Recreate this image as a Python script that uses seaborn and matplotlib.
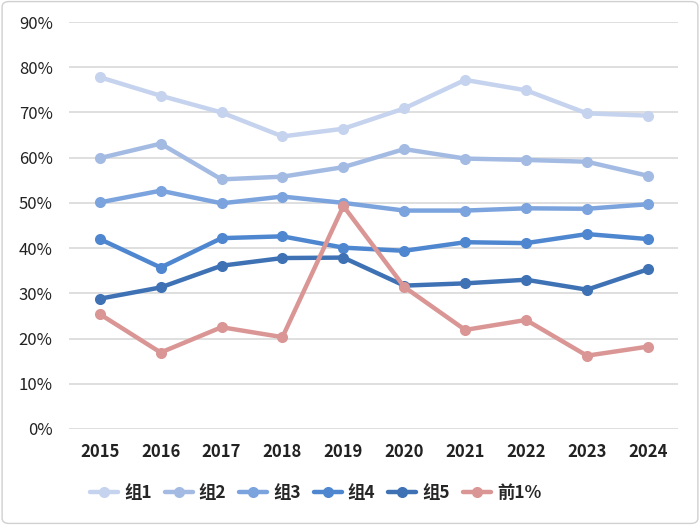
import matplotlib
matplotlib.use("Agg")
import matplotlib.pyplot as plt
import seaborn as sns
import pandas as pd
from matplotlib.ticker import FuncFormatter
from matplotlib.patches import FancyBboxPatch

years = ["2015", "2016", "2017", "2018", "2019", "2020", "2021", "2022", "2023", "2024"]
g1 = [77.8, 73.7, 70.0, 64.7, 66.4, 70.9, 77.2, 74.9, 69.8, 69.3]
g2 = [59.9, 63.1, 55.2, 55.8, 57.9, 61.9, 59.8, 59.5, 59.1, 56.0]
g3 = [50.1, 52.7, 49.9, 51.4, 50.0, 48.3, 48.3, 48.8, 48.7, 49.7]
g4 = [42.0, 35.7, 42.2, 42.6, 40.1, 39.4, 41.3, 41.1, 43.1, 42.0]
g5 = [28.8, 31.3, 36.1, 37.8, 37.9, 31.7, 32.2, 33.0, 30.8, 35.3]
top1 = [25.4, 16.9, 22.5, 20.3, 49.3, 31.4, 21.9, 24.1, 16.2, 18.2]
series_names = ["组1", "组2", "组3", "组4", "组5", "前1%"]
colors = ["#C5D3EE", "#A3BBE3", "#7BA3DD", "#4E87CF", "#3F72B5", "#DA9694"]

sns.set_theme(style="white")
plt.rcParams['font.family'] = ['Noto Sans CJK SC', 'DejaVu Sans']

rows = []
for name, vals in zip(series_names, [g1, g2, g3, g4, g5, top1]):
    for i, (y, v) in enumerate(zip(years, vals)):
        rows.append({"年份": i, "组": name, "值": v})
df = pd.DataFrame(rows)

fig = plt.figure(figsize=(7, 5.25), dpi=100)
ax = fig.add_axes([0.099, 0.183, 0.870, 0.775])

sns.lineplot(data=df, x="年份", y="值", hue="组", hue_order=series_names,
             palette=colors, marker="o", markersize=8, markeredgewidth=0,
             linewidth=3.2, ax=ax, legend=False)

ax.set_xlim(-0.5, 9.5)
ax.set_ylim(0, 90)
ax.set_yticks(range(0, 91, 10))
ax.yaxis.set_major_formatter(FuncFormatter(lambda v, p: f"{int(v)}%"))
ax.set_xticks(range(len(years)))
ax.set_xticklabels(years, fontweight="bold", fontsize=12)
ax.tick_params(axis="y", labelsize=12, length=0, pad=12, colors="#222222")
ax.tick_params(axis="x", length=0, pad=10, colors="#222222")
ax.set_xlabel("")
ax.set_ylabel("")
ax.grid(axis="y", color="#D9D9D9", linewidth=1.2)
ax.set_axisbelow(True)
for s in ax.spines.values():
    s.set_visible(False)

handles = [plt.Line2D([0], [0], color=c, linewidth=3.2, marker="o", markersize=8,
                      markeredgewidth=0) for c in colors]
leg = fig.legend(handles, series_names, loc="center", bbox_to_anchor=(0.451, 0.061),
                 ncol=6, frameon=False, handlelength=1.6, columnspacing=0.75,
                 handletextpad=0.35, prop={"weight": "bold", "size": 12.5})

border = FancyBboxPatch((0.003, 0.003), 0.994, 0.994, boxstyle="round,pad=0,rounding_size=0.01",
                        transform=fig.transFigure, fill=False, edgecolor="#D0D0D0", linewidth=1)
fig.patches.append(border)

fig.savefig("out.png", dpi=100)
